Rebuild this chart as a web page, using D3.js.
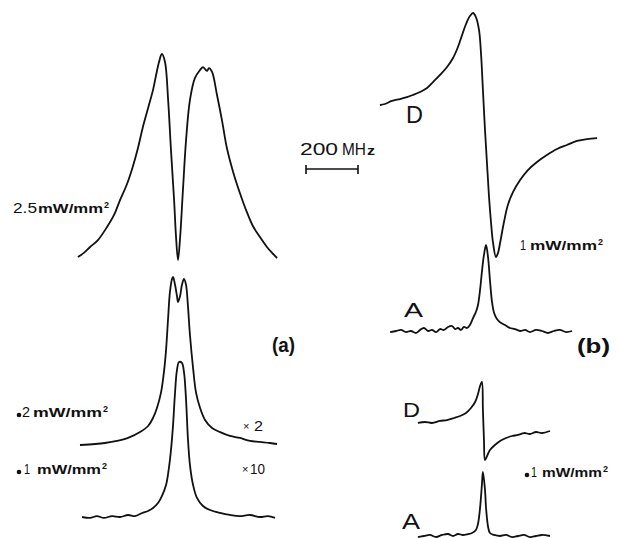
<!DOCTYPE html>
<html>
<head>
<meta charset="utf-8">
<script src="https://cdn.jsdelivr.net/npm/d3@7/dist/d3.min.js"></script>
<style>
  body { margin: 0; background: #fff; }
  svg { display: block; }
  text { font-family: 'Liberation Sans', Arial, sans-serif; fill: #111; }
</style>
</head>
<body>
<div id="chart"></div>
<script>
'use strict'

var outerWidth = 617;
var outerHeight = 538;

// frequency offsets (MHz) and signal (arb. units, peak = 1)

// (a) 2.5 mW/mm2
var a25Freq = [-385,-362,-338,-308,-273,-246,-223,-196,-173,-154,-135,-115,-96,-85,-73,-62,-50,-38,-27,-15,-8,0,8,19,31,46,65,85,96,104,112,119,131,150,169,188,212,238,265,288,315,342,362,381];
var a25Sig  = [0.005,0.025,0.054,0.088,0.152,0.211,0.284,0.363,0.451,0.539,0.642,0.735,0.824,0.892,0.961,1.0,0.961,0.775,0.529,0.284,0.113,-0.01,0.098,0.333,0.578,0.775,0.882,0.922,0.936,0.926,0.917,0.931,0.912,0.799,0.676,0.539,0.422,0.319,0.225,0.157,0.103,0.054,0.025,0.0];

// (a) .2 mW/mm2  (x2)
var a02Freq = [-377,-319,-281,-235,-192,-146,-115,-96,-81,-65,-54,-46,-38,-31,-23,-19,-12,-4,0,8,15,23,31,38,46,58,69,85,104,131,162,200,238,277,315,354,381];
var a02Sig  = [0,0.006,0.012,0.024,0.042,0.077,0.113,0.161,0.220,0.315,0.435,0.565,0.756,0.911,0.988,1.0,0.958,0.887,0.851,0.887,0.952,0.988,0.952,0.833,0.655,0.458,0.315,0.220,0.149,0.101,0.077,0.054,0.042,0.024,0.018,0.012,0.006];

// (a) .1 mW/mm2  (x10)
var a01Freq = [-369,-338,-312,-285,-254,-223,-192,-165,-138,-115,-96,-77,-62,-46,-35,-27,-19,-12,-4,4,15,23,31,38,46,58,73,96,123,162,200,238,277,315,346,373];
var a01Sig  = [0,-0.006,0.006,-0.006,0.006,0,0.013,0.006,0.026,0.039,0.058,0.090,0.135,0.206,0.316,0.432,0.594,0.787,0.948,1.0,0.994,0.935,0.755,0.510,0.335,0.206,0.123,0.071,0.045,0.026,0.013,0.006,0.013,0,0.006,-0.006];

// (b) 1 mW/mm2, dispersion D
var bD1Freq = [-404,-385,-358,-327,-300,-277,-250,-223,-200,-173,-146,-123,-104,-88,-73,-58,-46,-35,-23,-15,-8,0,8,15,23,31,42,50,58,73,88,108,135,165,200,238,277,315,354,392,431];
var bD1Sig  = [0.246,0.254,0.279,0.295,0.311,0.328,0.352,0.385,0.434,0.492,0.557,0.631,0.721,0.820,0.910,0.975,1.0,0.967,0.861,0.656,0.369,0.041,-0.246,-0.492,-0.713,-0.885,-1.0,-0.967,-0.885,-0.713,-0.574,-0.467,-0.369,-0.287,-0.221,-0.164,-0.115,-0.082,-0.049,-0.033,-0.025];

// (b) 1 mW/mm2, absorption A
var bA1Freq = [-365,-342,-323,-304,-285,-265,-250,-235,-219,-204,-188,-173,-158,-142,-127,-115,-104,-92,-81,-69,-58,-46,-35,-27,-19,-12,-4,4,12,19,27,35,46,62,77,96,115,135,154,173,196,219,242,265,288,312,335];
var bA1Sig  = [-0.012,0,0.012,-0.012,0,-0.023,0.012,0.035,0,0.012,-0.012,0.023,0.012,0.047,0.058,0.023,0.035,0.012,0.047,0.035,0.070,0.151,0.221,0.302,0.477,0.686,0.884,1.0,0.849,0.593,0.337,0.209,0.140,0.093,0.070,0.035,0.023,0,0.012,-0.012,0.012,0,-0.023,0,0.012,-0.012,0];

// (b) .1 mW/mm2, dispersion D
var bD01Freq = [-258,-231,-204,-173,-146,-119,-96,-73,-54,-38,-27,-19,-12,-8,-4,0,8,19,38,58,81,104,127,150,173,196,219,250];
var bD01Sig  = [0.146,0.167,0.146,0.188,0.208,0.25,0.292,0.354,0.458,0.583,0.75,0.917,1.0,0.417,-0.208,-0.625,-0.542,-0.417,-0.313,-0.229,-0.167,-0.125,-0.104,-0.063,-0.083,-0.042,-0.063,-0.021];

// (b) .1 mW/mm2, absorption A
var bA01Freq = [-258,-235,-212,-188,-165,-142,-123,-104,-85,-65,-50,-35,-27,-19,-12,-8,0,4,12,19,35,58,81,104,127,150,173,196,219,250];
var bA01Sig  = [-0.016,0,0.016,-0.016,0.016,0.031,0,0.031,0.016,0.031,0.047,0.094,0.188,0.438,0.797,1.0,0.719,0.438,0.141,0.047,0.016,0,0.016,-0.016,0,0.016,-0.016,0,0.016,0];

var powerLabels = ['2.5', '.2', '.1', '1', '.1'];
var unitLabel = 'mW/mm';
var gainLabels = ['2', '10'];
var panelLabels = ['(a)', '(b)'];
var traceLabels = ['D', 'A', 'D', 'A'];
var scaleBarMHz = 200;

//create the svg element

var svg = d3.select('#chart').append('svg')
  .attr('width', outerWidth)
  .attr('height', outerHeight);

//frequency scales, one per panel (200 MHz = 52 px)

var xA = d3.scaleLinear().domain([-400, 400]).range([178 - 104, 178 + 104]);
var xB = d3.scaleLinear().domain([-400, 400]).range([485 - 104, 485 + 104]);

//each trace: data, x scale, y of zero signal, y of unit signal

var traces = [
  {f: a25Freq,  s: a25Sig,  x: xA, y0: 258, y1: 54},
  {f: a02Freq,  s: a02Sig,  x: xA, y0: 445, y1: 277},
  {f: a01Freq,  s: a01Sig,  x: xA, y0: 517, y1: 362},
  {f: bD1Freq,  s: bD1Sig,  x: xB, y0: 135, y1: 13},
  {f: bA1Freq,  s: bA1Sig,  x: xB, y0: 331, y1: 245},
  {f: bD01Freq, s: bD01Sig, x: xB, y0: 430, y1: 382},
  {f: bA01Freq, s: bA01Sig, x: xB, y0: 536, y1: 472}
];

traces.forEach(function(t){
  var y = d3.scaleLinear().domain([0, 1]).range([t.y0, t.y1]);
  var pts = t.f.map(function(f, i){ return [f, t.s[i]]; });
  var line = d3.line()
    .x(function(d){ return t.x(d[0]); })
    .y(function(d){ return y(d[1]); })
    .curve(d3.curveCatmullRom.alpha(0.5));
  svg.append('path')
    .attr('d', line(pts))
    .attr('fill', 'none')
    .attr('stroke', '#111')
    .attr('stroke-width', 1.8)
    .attr('stroke-linejoin', 'round');
});

//scale bar

var xBar = d3.scaleLinear().domain([0, scaleBarMHz]).range([306, 358]);
var bar = svg.append('g').attr('stroke', '#111').attr('stroke-width', 1.6);
bar.append('line').attr('x1', xBar(0)).attr('x2', xBar(scaleBarMHz)).attr('y1', 169).attr('y2', 169);
bar.append('line').attr('x1', xBar(0)).attr('x2', xBar(0)).attr('y1', 165).attr('y2', 174);
bar.append('line').attr('x1', xBar(scaleBarMHz)).attr('x2', xBar(scaleBarMHz)).attr('y1', 165).attr('y2', 174);

//text helper: one text element per piece, stretched to its measured width

function put(x, y, txt, size, weight, len){
  var t = svg.append('text')
    .attr('x', x).attr('y', y)
    .attr('font-size', size)
    .attr('font-weight', weight || 'normal')
    .text(txt);
  if (len) t.attr('textLength', len).attr('lengthAdjust', 'spacingAndGlyphs');
  return t;
}

//power labels: optional bold leading dot, number, unit, superscript 2

var powerPos = [
  {y: 213, dot: null, nx: 13,  nl: 24, ux: 38,  ul: 65},
  {y: 417, dot: 19,   nx: 22,  nl: 8,  ux: 33,  ul: 69},
  {y: 474, dot: 19,   nx: 24,  nl: 6,  ux: 37,  ul: 64},
  {y: 250, dot: null, nx: 520, nl: 6,  ux: 530, ul: 67},
  {y: 477, dot: 527,  nx: 531, nl: 6,  ux: 542, ul: 60}
];

powerLabels.forEach(function(p, i){
  var pos = powerPos[i];
  var num = p;
  if (p.charAt(0) === '.') {
    num = p.slice(1);
    svg.append('circle').attr('cx', pos.dot).attr('cy', pos.y - 2).attr('r', 2.3).attr('fill', '#111');
  }
  put(pos.nx, pos.y, num, 14, 'normal', pos.nl);
  put(pos.ux, pos.y, unitLabel, 13, 'bold', pos.ul);
  put(pos.ux + pos.ul + 1, pos.y - 5, '2', 9, 'bold');
});

//gain factors

[[243, 431], [242, 474]].forEach(function(d, i){
  put(d[0], d[1] - 1, '\u00d7', 11, 'normal');
  put(d[0] + (i ? 8 : 11), d[1], gainLabels[i], 15, 'normal', i ? 15 : 9);
});

put(272, 352, panelLabels[0], 20, 'bold', 23);
put(577, 353, panelLabels[1], 20, 'bold', 33);

put(406, 123, traceLabels[0], 24, 'normal', 17);
put(404, 317, traceLabels[1], 21, 'normal', 19);
put(403, 417, traceLabels[2], 21, 'normal', 17);
put(402, 529, traceLabels[3], 22, 'normal', 18);

put(300, 155, '200', 17, 'normal', 38);
put(342, 155, 'MH', 17, 'normal', 24);
put(367, 155, 'z', 12, 'bold', 8);
</script>
</body>
</html>
